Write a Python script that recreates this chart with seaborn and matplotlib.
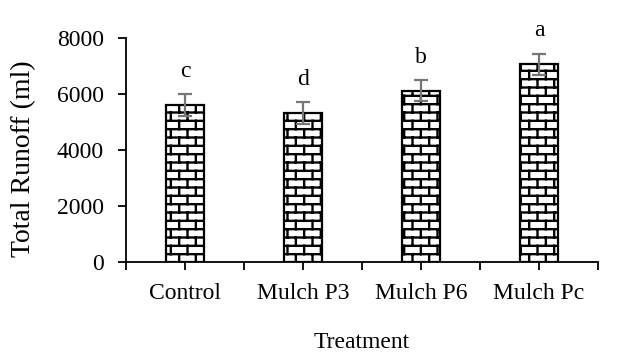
import numpy as np
import matplotlib
matplotlib.use("Agg")
import matplotlib.pyplot as plt
from matplotlib import hatch as mhatch
from matplotlib.path import Path
import seaborn as sns

# ---- data ----
treatments = ["Control", "Mulch P3", "Mulch P6", "Mulch Pc"]
runoff = [5600, 5320, 6120, 7060]
runoff_err = [390, 390, 375, 380]
letters = ["c", "d", "b", "a"]
yticks = [0, 2000, 4000, 6000, 8000]


# ---- custom brick hatch ----
class BrickHatch(mhatch.HatchPatternBase):
    def __init__(self, hatch, density):
        self.rows = int(hatch.count('B') * density)
        self.cols = self.rows // 2
        if self.rows:
            self.num_vertices = 2 * self.rows + 2 * (self.rows + 1) * self.cols
        else:
            self.num_vertices = 0

    def set_vertices_and_codes(self, vertices, codes):
        n, m = self.rows, self.cols
        segs = []
        for i in range(n):
            y = (i + 0.5) / n
            segs.append(((0.0, y), (1.0, y)))
        for k in range(n):
            off = 0.25 if k % 2 == 0 else 0.75
            if k == 0:
                ranges = [(0.0, 0.5 / n), (1 - 0.5 / n, 1.0)]
            else:
                ranges = [((k - 0.5) / n, (k + 0.5) / n)]
            for (y0, y1) in ranges:
                for j in range(m):
                    x = (j + off) / m
                    segs.append(((x, y0), (x, y1)))
        segs = segs[: self.num_vertices // 2]
        while len(segs) < self.num_vertices // 2:
            segs.append(((0, 0), (0, 0)))
        for idx, (p0, p1) in enumerate(segs):
            vertices[2 * idx] = p0
            vertices[2 * idx + 1] = p1
            codes[2 * idx] = Path.MOVETO
            codes[2 * idx + 1] = Path.LINETO


mhatch._hatch_types.append(BrickHatch)
mhatch._validate_hatch_pattern = lambda h: None

sns.set_theme(style="ticks")
plt.rcParams['font.family'] = ['Liberation Serif', 'DejaVu Serif']
plt.rcParams['hatch.linewidth'] = 1.7
plt.rcParams['hatch.color'] = 'black'
for k in ['text.color', 'axes.labelcolor', 'xtick.color', 'ytick.color',
          'xtick.labelcolor', 'ytick.labelcolor']:
    plt.rcParams[k] = 'black'

fig = plt.figure(figsize=(6.17, 3.54), dpi=100)
ax = fig.add_axes([126 / 617, 1 - 262 / 354, 472 / 617, 224 / 354])

sns.barplot(x=treatments, y=runoff, color="white", edgecolor="black",
            linewidth=1.6, width=0.32, errorbar=None, saturation=1, ax=ax)
for p in ax.patches:
    p.set_hatch('BB')
    p.set_facecolor('white')
    p.set_edgecolor('black')

xs = np.arange(len(treatments))
ax.errorbar(xs, runoff, yerr=runoff_err, fmt='none', ecolor='#767676',
            elinewidth=1.6, capsize=5, capthick=1.6, zorder=5)

for x, v, e, l in zip(xs, runoff, runoff_err, letters):
    ax.text(x, v + e + 620, l, ha='center', va='baseline', fontsize=17,
            color='black', clip_on=False)

ax.set_xlim(-0.5, 3.5)
ax.set_ylim(0, 8000)
ax.set_yticks(yticks)
ax.set_yticklabels([str(t) for t in yticks], fontsize=17)
ax.set_xticks(xs)
ax.set_xticklabels(treatments, fontsize=17)
ax.set_xticks(np.arange(-0.5, 4.0, 1.0), minor=True)
ax.tick_params(axis='x', which='both', direction='out', length=6, width=1.3,
               color='black', labelcolor='black', pad=9)
ax.tick_params(axis='y', which='major', direction='out', length=6, width=1.3,
               color='black', labelcolor='black', pad=10)
for s in ['top', 'right']:
    ax.spines[s].set_visible(False)
for s in ['left', 'bottom']:
    ax.spines[s].set_color('black')
    ax.spines[s].set_linewidth(1.3)

ax.set_xlabel("Treatment", fontsize=17, color='black')
ax.xaxis.set_label_coords(0.5, (262 - 343) / 224)
ax.xaxis.label.set_va('center')
ax.set_ylabel("Total Runoff (ml)", fontsize=20, color='black')
ax.yaxis.set_label_coords((24 - 126) / 472, (262 - 159) / 224)
ax.yaxis.label.set_va('center')

fig.savefig("out.png", dpi=100)
